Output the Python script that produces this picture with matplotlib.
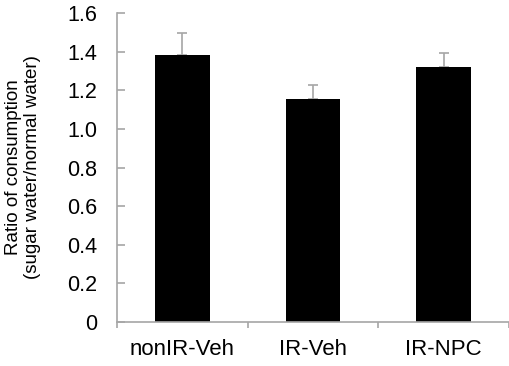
import numpy as np
import matplotlib
matplotlib.use("Agg")
import matplotlib.pyplot as plt
from matplotlib.ticker import FixedLocator, FuncFormatter

groups = ["nonIR-Veh", "IR-Veh", "IR-NPC"]
ratio_mean = [1.385, 1.153, 1.320]
ratio_err = [0.110, 0.076, 0.071]
y_ticks = [0, 0.2, 0.4, 0.6, 0.8, 1.0, 1.2, 1.4, 1.6]

plt.rcParams["font.family"] = ["Liberation Sans", "DejaVu Sans"]
grey = "#a6a6a6"

fig = plt.figure(figsize=(5.10, 3.66), dpi=100)
ax = fig.add_axes([117 / 510, 1 - 322 / 366, 392 / 510, 309 / 366])

x = np.arange(len(groups))
ax.bar(x, ratio_mean, width=0.42, color="black", zorder=2)
ax.errorbar(x, ratio_mean, yerr=[np.zeros(len(x)), ratio_err], fmt="none",
            ecolor=grey, elinewidth=1.2, capsize=3.3, capthick=1.2, zorder=1)

ax.set_xlim(-0.5, len(groups) - 0.5)
ax.set_ylim(0, 1.6)
ax.set_yticks(y_ticks)
ax.yaxis.set_major_formatter(FuncFormatter(lambda v, p: "0" if v == 0 else f"{v:.1f}"))

ax.xaxis.set_major_locator(FixedLocator(np.arange(len(groups) + 1) - 0.5))
ax.xaxis.set_minor_locator(FixedLocator(x))
ax.set_xticklabels([])
ax.set_xticklabels(groups, minor=True)
ax.tick_params(axis="x", which="major", direction="out", length=4.5, color=grey, width=1.2)
ax.tick_params(axis="x", which="minor", length=0, pad=12, labelsize=16)
ax.tick_params(axis="y", direction="in", length=6, color=grey, width=1.2,
               labelsize=15.5, pad=14)

for side in ["top", "right"]:
    ax.spines[side].set_visible(False)
for side in ["left", "bottom"]:
    ax.spines[side].set_color(grey)
    ax.spines[side].set_linewidth(1.2)

ax.set_ylabel("Ratio of consumption\n(sugar water/normal water)", fontsize=13.5,
              linespacing=1.15, labelpad=19)

fig.savefig("out.png", dpi=100)
